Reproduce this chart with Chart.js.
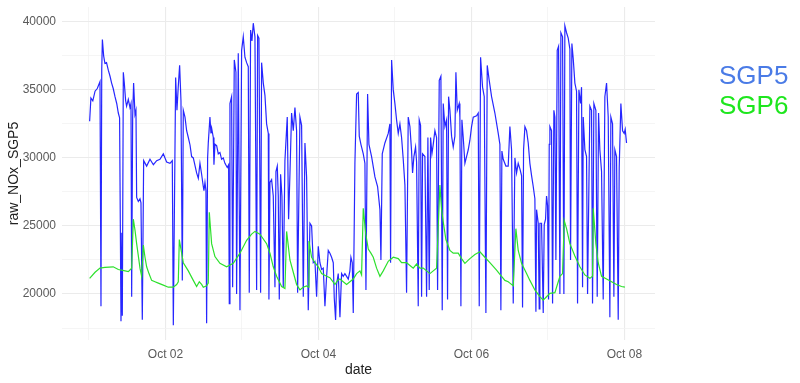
<!DOCTYPE html>
<html>
<head>
<meta charset="utf-8">
<script src="https://cdn.jsdelivr.net/npm/chart.js@4/dist/chart.umd.min.js"></script>
<style>
  body { margin: 0; background: #fff; }
  #wrap { position: relative; width: 800px; height: 383px; }
  .leg { position: absolute; left: 719px; font: 26px "Liberation Sans", Arial, sans-serif; line-height: 30px; }
</style>
</head>
<body>
<div id="wrap">
  <canvas id="chart" width="800" height="383"></canvas>
  <div id="legend"></div>
</div>
<script>
// hours since Oct 01 00:00
const sgp5Hours = [0.2,0.6,1.2,1.9,2.6,3.45,3.76,4.0,4.2,4.6,5.0,5.5,6.06,6.6,7.1,7.6,8.16,8.7,9.2,9.6,
  10.04,10.3,10.46,10.77,11.08,11.5,11.8,12.34,12.86,13.18,13.39,13.7,14.0,14.43,14.74,14.95,15.48,16.0,16.31,16.73,
  17.15,18.09,19.14,20.2,21.23,22.27,23.32,24.36,25.41,26.14,26.46,27.19,27.6,28.0,28.44,28.86,29.28,29.59,30.12,30.64,
  31.16,31.7,32.2,32.73,33.77,34.3,34.82,35.34,35.86,36.07,36.39,36.7,36.91,37.22,37.43,37.95,38.27,38.48,39.0,39.21,
  39.52,40.05,40.57,41.09,41.61,42.14,42.66,43.39,43.81,44.02,44.23,44.75,45.07,45.59,46.11,46.32,46.84,47.37,47.89,48.41,
  48.93,49.46,49.98,50.29,50.71,51.13,51.55,52.07,52.6,52.91,53.33,53.85,54.16,54.69,55.21,55.73,56.26,56.46,56.78,57.3,
  57.82,58.35,58.66,59.08,59.39,59.71,60.12,60.54,60.96,61.48,62.21,62.63,63.05,63.57,64.1,64.62,65.14,65.46,66.19,66.71,
  67.24,67.76,68.28,68.8,69.33,69.85,70.37,70.9,71.42,71.94,72.46,72.99,73.51,74.03,74.56,75.08,75.6,76.12,76.65,76.96,
  77.38,77.69,78.21,78.74,79.26,79.78,80.3,80.83,81.35,81.87,82.19,82.61,82.92,83.44,83.97,84.49,84.8,85.32,86.06,86.58,
  86.9,87.42,87.84,88.67,89.72,90.55,91.29,91.6,92.02,92.85,93.9,94.42,94.63,94.95,95.47,95.99,96.51,97.04,97.56,98.08,
  98.6,99.13,99.65,100.17,100.7,101.22,101.53,101.95,102.47,102.79,103.31,103.62,104.04,104.36,104.67,105.4,105.93,106.34,106.76,107.18,
  107.6,108.02,108.54,109.06,109.38,109.9,110.42,110.84,111.15,111.68,112.2,112.51,112.83,113.25,113.77,114.29,114.81,115.13,115.55,116.17,
  116.38,116.7,117.01,117.43,117.95,118.47,119.0,119.52,120.04,120.57,121.61,122.13,122.45,122.87,123.49,124.02,124.54,124.96,125.58,126.32,
  127.36,128.41,128.93,129.24,129.56,129.98,130.81,131.54,132.07,132.59,133.12,133.64,134.16,134.68,135.21,135.73,136.04,136.36,136.78,137.3,
  137.82,138.34,138.87,139.39,139.91,140.23,140.44,140.96,141.27,141.48,142.0,142.53,142.84,143.26,143.57,143.89,144.2,144.41,144.62,145.14,
  145.46,145.87,146.19,146.5,146.92,147.34,147.76,148.07,148.59,149.01,149.32,149.85,150.37,150.89,151.1,151.52,151.94,152.46,152.98,153.3,
  153.72,154.24,154.55,154.87,155.08,155.6,156.12,156.44,157.17,157.69,158.0,158.42,159.05,159.47,159.89,160.3,160.83,161.35,161.87,162.4,
  162.92,163.44,163.75,164.28,164.7,165.01,165.53,166.06,166.37,166.89,167.42,167.94,168.25,168.67];
const sgp5Values = [32700,34400,34200,34900,35100,35600,19100,36500,38700,37500,36950,37000,36450,36000,35500,35100,34500,34000,33300,32950,
  18000,24500,18400,36300,35500,34200,33800,34300,33700,34000,19800,33000,35500,33200,33500,27100,26800,27000,26700,18100,
  29800,29400,29900,29500,29800,29900,30300,29700,29600,29800,17700,35900,33500,35200,36800,34200,21000,33500,33000,32000,
  31500,30950,30100,30000,28900,28500,29600,28800,27900,27600,28200,27600,17850,30000,31100,33000,31800,32200,31500,29500,
  31000,30900,30300,30400,29900,30000,29600,29300,29500,19300,34000,34500,20500,37200,36300,20000,37700,18800,37900,38900,
  37400,37000,36700,20100,39400,38600,39900,38900,20300,39000,38800,20100,37000,35500,34600,32500,31800,19600,28200,28400,
  27200,20500,29000,29400,27200,19600,28800,27200,20500,29800,33000,25500,28800,33300,32000,33700,32000,20100,33000,32400,
  19800,31100,28600,18800,25200,25000,22300,22400,19800,23500,22300,21800,21900,19100,21300,23200,23000,22700,22300,19700,
  18100,20700,21500,18300,21500,21300,21500,21300,21100,21700,22700,22300,18600,29600,34700,34800,31600,31000,30300,29600,
  20300,34700,31000,30100,28600,27900,26200,22500,30300,31100,31800,32500,22300,37200,35000,34000,32800,31800,32500,31500,
  29900,28000,20100,33000,32300,30500,28900,30100,30800,29700,19100,32800,32400,19800,30300,30100,19800,31500,20300,31500,
  30300,31000,32000,31500,20300,35700,36000,18800,34000,32300,32800,19600,34500,33500,31600,30800,31600,36300,33500,34000,
  33000,19100,32800,31500,29600,30100,30600,31300,32300,33000,33100,33300,19100,37400,35200,34500,18600,36800,35700,34500,
  33300,31800,31000,18800,30500,29900,29400,29400,32300,30600,19300,30000,28900,29600,29200,28700,19000,30600,32300,32000,
  31100,29600,28700,27900,27000,18700,26200,25200,18900,25200,25200,18600,25100,25500,27200,26500,19600,31000,32300,32000,
  19300,33500,33000,22500,37900,38200,20000,39200,38900,20000,39700,39200,38800,38000,22500,38400,37300,35500,34900,19300,
  35000,34000,35200,20500,33000,30600,30100,20000,33800,33500,19300,34000,33500,19800,33300,30600,29000,19600,34500,35500,
  33000,18300,33000,32500,19800,30600,30100,18100,29300,34000,32000,31800,32100,31100];

const sgp6Hours = [0.2,1.9,3.45,5.0,7.6,9.2,10.25,12.34,13.39,13.91,14.43,14.95,15.48,16.0,16.52,17.05,17.57,18.09,18.82,19.66,
  20.7,21.75,23.32,24.89,26.46,27.5,28.02,28.34,29.07,29.59,31.16,32.73,33.77,34.61,35.34,35.86,36.91,37.43,37.75,38.16,
  38.48,39.52,41.09,43.18,45.27,47.37,49.46,51.03,52.07,53.64,55.73,56.78,57.82,58.87,60.44,61.48,62.01,63.05,64.1,65.14,
  66.19,67.2,68.28,68.8,69.01,69.85,70.9,71.94,72.99,74.56,75.6,77.17,78.0,78.74,79.78,80.83,81.87,82.92,83.97,85.01,
  85.53,86.06,86.79,87.63,88.46,89.2,90.24,91.29,92.33,93.9,95.47,97.04,98.08,99.65,100.7,101.74,102.79,103.83,104.88,105.93,
  106.97,108.02,109.06,109.59,110.11,110.63,111.15,111.99,113.25,114.29,115.86,116.9,117.95,119.52,121.09,122.66,124.22,125.79,127.88,129.45,
  130.5,131.54,132.07,133.12,133.95,134.68,135.73,137.3,138.34,139.91,141.48,142.53,143.57,144.62,146.19,147.76,148.59,149.12,149.85,150.89,
  152.46,154.03,155.6,157.17,158.0,158.21,159.05,159.78,160.83,162.4,163.97,165.53,167.1,168.15];
const sgp6Values = [21150,21600,21900,21950,22000,21800,21750,21650,21900,25500,24700,23700,22800,21900,21300,23600,22700,22000,21500,21000,
  20900,20800,20650,20500,20500,20700,20900,24000,23000,22300,21700,21000,20550,20900,20700,20500,20600,20800,26000,24700,
  23700,22750,22250,22000,22250,23000,23950,24400,24600,24400,23700,23000,22000,21300,20550,20400,24600,22500,21600,20700,
  20300,20500,20600,20500,23900,22700,22300,22000,21500,21300,21200,20700,21000,21100,20900,20700,20900,21100,21500,21700,
  21400,26300,24500,23300,23000,22700,21900,21300,21700,22400,22700,22600,22300,22300,22100,21900,22200,21900,21900,21700,
  21500,21700,21900,25000,28000,26200,25300,24000,23200,23000,23000,22600,22250,22600,22900,23100,22700,22300,21750,21300,
  21000,20900,20800,20600,24800,23200,22250,21500,21000,20300,19800,19550,19800,20050,20100,21300,21500,25400,24800,23700,
  22800,22000,21400,21150,21300,26300,23700,22300,21300,21100,20900,20700,20550,20500];

const seriesNames = ['SGP5', 'SGP6'];
const lineColors = ['rgba(0, 0, 255, 0.85)', '#2de02d'];
const legendColors = ['#4a7be6', '#1ee61e'];
// grid/tick positions: x in hours (one per day), y every 2500
const xTickHours = [0, 24, 48, 72, 96, 120, 144, 168];
const dayLabels = ['Oct 01', 'Oct 02', 'Oct 03', 'Oct 04', 'Oct 05', 'Oct 06', 'Oct 07', 'Oct 08'];
const yTickValues = [17500, 20000, 22500, 25000, 27500, 30000, 32500, 35000, 37500, 40000];

const toPoints = (hours, values) => hours.map((h, i) => ({ x: h, y: values[i] }));
const isMajorX = v => v % 48 === 24;
const isMajorY = v => v % 5000 === 0;

Chart.defaults.font.family = '"Liberation Sans", Arial, sans-serif';

new Chart(document.getElementById('chart'), {
    type: 'line',
    data: {
        datasets: [
            { label: seriesNames[0], data: toPoints(sgp5Hours, sgp5Values), borderColor: lineColors[0], borderWidth: 1.2, order: 2 },
            { label: seriesNames[1], data: toPoints(sgp6Hours, sgp6Values), borderColor: lineColors[1], borderWidth: 1.2, order: 1 },
        ]
    },
    options: {
        responsive: false,
        animation: false,
        devicePixelRatio: 1,
        layout: { padding: { top: 7, right: 145, left: 0, bottom: 0 } },
        elements: { point: { radius: 0 }, line: { tension: 0 } },
        plugins: { legend: { display: false }, tooltip: { enabled: false } },
        scales: {
            x: {
                type: 'linear',
                min: -8.47,
                max: 177.6,
                border: { display: false },
                afterBuildTicks: scale => { scale.ticks = xTickHours.map(v => ({ value: v })); },
                grid: {
                    drawTicks: false,
                    color: ctx => ctx.tick && isMajorX(ctx.tick.value) ? '#ebebeb' : '#f3f3f3',
                    lineWidth: ctx => ctx.tick && isMajorX(ctx.tick.value) ? 1.1 : 0.8,
                },
                ticks: {
                    autoSkip: false,
                    maxRotation: 0,
                    padding: 7,
                    color: '#5a5a5a',
                    font: { size: 12 },
                    callback: v => isMajorX(v) ? dayLabels[xTickHours.indexOf(v)] : '',
                },
                title: { display: true, text: 'date', color: '#222', font: { size: 14 }, padding: { top: 0, bottom: 4 } },
                afterFit: scale => { scale.height = 43; },
            },
            y: {
                min: 16620,
                max: 41090,
                border: { display: false },
                afterBuildTicks: scale => { scale.ticks = yTickValues.map(v => ({ value: v })); },
                grid: {
                    drawTicks: false,
                    color: ctx => ctx.tick && isMajorY(ctx.tick.value) ? '#ebebeb' : '#f3f3f3',
                    lineWidth: ctx => ctx.tick && isMajorY(ctx.tick.value) ? 1.1 : 0.8,
                },
                ticks: {
                    autoSkip: false,
                    padding: 6,
                    color: '#5a5a5a',
                    font: { size: 12 },
                    callback: v => isMajorY(v) ? String(v) : '',
                },
                title: { display: true, text: 'raw_NOx_SGP5', color: '#222', font: { size: 14 }, padding: { top: 6, bottom: 0 } },
                afterFit: scale => {
                    scale.width = 62;
                    scale.paddingTop = 0;
                    scale.paddingBottom = 0;
                },
            }
        }
    }
});

// legend: coloured text only, like the reference
const legend = document.getElementById('legend');
seriesNames.forEach((name, i) => {
    const d = document.createElement('div');
    d.className = 'leg';
    d.style.top = (60 + i * 30) + 'px';
    d.style.color = legendColors[i];
    d.textContent = name;
    legend.appendChild(d);
});
</script>
</body>
</html>
